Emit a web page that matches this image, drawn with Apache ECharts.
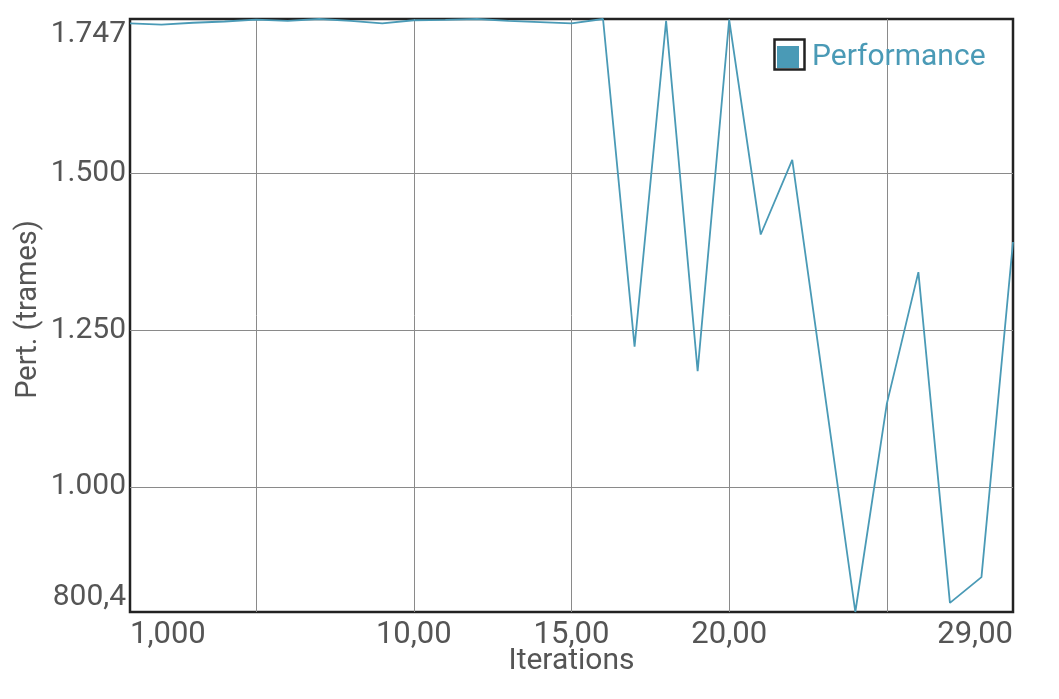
<!DOCTYPE html>
<html>
<head>
<meta charset="utf-8">
<script src="https://cdn.jsdelivr.net/npm/echarts@6/dist/echarts.min.js"></script>
<style>
html,body{margin:0;padding:0;background:#fff;}
#chart{width:1059px;height:699px;}
</style>
</head>
<body>
<div id="chart"></div>
<script>
const iterations = [1,2,3,4,5,6,7,8,9,10,11,12,13,14,15,16,17,18,19,20,21,22,23,24,25,26,27,28,29];
const performance = [1740,1738,1741,1743,1746,1744,1747,1744,1740,1745,1745.5,1747,1744,1742,1740,1747,1224,1744,1185,1746,1403,1522,1161,800.4,1133,1343,815,856,1391];
const xTickValues = [1,10,15,20,29];
const xTickLabels = ['1,000','10,00','15,00','20,00','29,00'];
const xGridValues = [5,10,15,20,25];
const yTickValues = [800.4,1000,1250,1500,1747];
const yTickLabels = ['800,4','1.000','1.250','1.500','1.747'];
const yGridValues = [1000,1250,1500];
const seriesName = 'Performance';

const lineColor = '#4a9ab6';
const textColor = '#555555';
const font = 'Roboto';

const chart = echarts.init(document.getElementById('chart'));
chart.setOption({
  animation: false,
  backgroundColor: '#ffffff',
  grid: {
    left: 130, right: 46, top: 19, bottom: 87,
    show: true, borderColor: '#222222', borderWidth: 2.5, backgroundColor: 'transparent',
    containLabel: false, outerBoundsMode: 'none'
  },
  legend: {
    data: [seriesName],
    left: 777, top: 42, padding: 0,
    icon: 'rect', itemWidth: 22, itemHeight: 22, itemGap: 10,
    textStyle: { color: lineColor, fontSize: 30, fontFamily: font, padding: [0, 0, 0, 8] }
  },
  graphic: [{
    type: 'rect', left: 772, top: 37,
    shape: { width: 30, height: 30 },
    style: { fill: 'none', stroke: '#222222', lineWidth: 2.5 },
    silent: true
  }],
  xAxis: {
    type: 'value', min: 1, max: 29,
    name: 'Iterations', nameLocation: 'middle', nameGap: 34, nameMoveOverlap: false,
    nameTextStyle: { color: textColor, fontSize: 30, fontFamily: font },
    axisLine: { show: false },
    axisTick: { show: false, customValues: xGridValues },
    splitLine: { show: true, lineStyle: { color: '#8a8a8a', width: 1 } },
    axisLabel: {
      customValues: xTickValues,
      color: textColor, fontSize: 31, fontFamily: font, margin: 8,
      alignMinLabel: 'left', alignMaxLabel: 'right',
      formatter: function (v) {
        const i = xTickValues.indexOf(v);
        return i >= 0 ? xTickLabels[i] : '';
      }
    }
  },
  yAxis: {
    type: 'value', min: 800.4, max: 1747,
    name: 'Pert. (trames)', nameLocation: 'middle', nameGap: 87, nameRotate: 90, nameMoveOverlap: false,
    nameTextStyle: { color: textColor, fontSize: 29, fontFamily: font, padding: [0, 0, 0, 12] },
    axisLine: { show: false },
    axisTick: { show: false, customValues: yGridValues },
    splitLine: { show: true, lineStyle: { color: '#8a8a8a', width: 1 } },
    axisLabel: {
      customValues: yTickValues,
      color: textColor, fontSize: 30, fontFamily: font, margin: 4,
      verticalAlignMinLabel: 'bottom', verticalAlignMaxLabel: 'top',
      formatter: function (v) {
        let best = 0, bd = Infinity;
        yTickValues.forEach(function (t, i) { const d = Math.abs(t - v); if (d < bd) { bd = d; best = i; } });
        return yTickLabels[best];
      }
    }
  },
  series: [{
    name: seriesName, type: 'line',
    data: iterations.map(function (x, i) { return [x, performance[i]]; }),
    showSymbol: false, symbol: 'none',
    lineStyle: { color: lineColor, width: 1.8 },
    itemStyle: { color: lineColor }
  }]
});
</script>
</body>
</html>
